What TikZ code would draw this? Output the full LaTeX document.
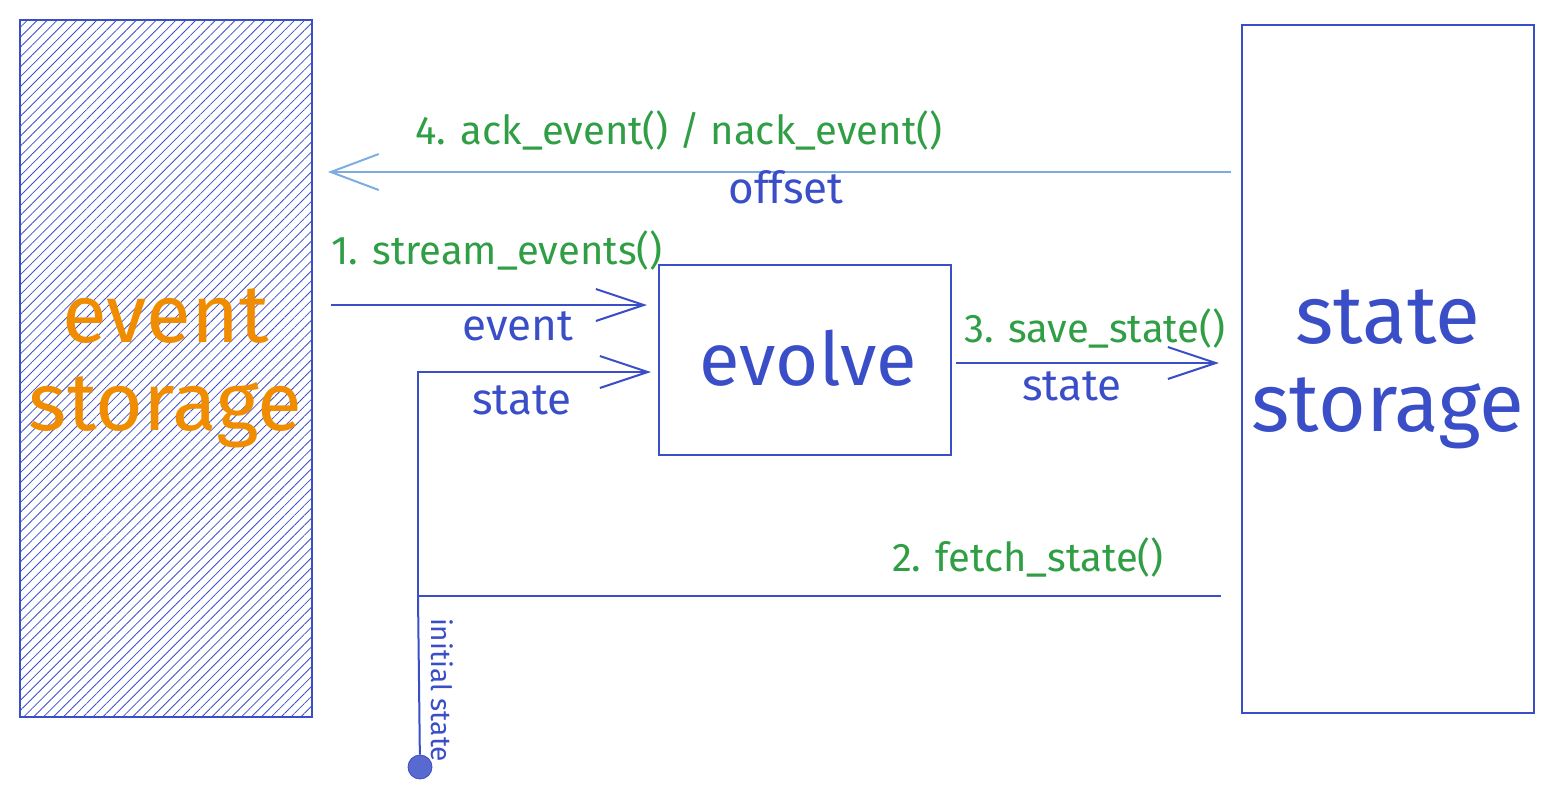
\documentclass[tikz,border=0pt]{standalone}
\usepackage{fontspec}
\setmainfont{Fira Sans}
\usetikzlibrary{arrows.meta,patterns.meta}
\definecolor{inkblue}{RGB}{58,78,200}
\definecolor{inkgreen}{RGB}{47,158,68}
\definecolor{inkorange}{RGB}{240,140,0}
\definecolor{paleblue}{RGB}{125,172,224}
\tikzset{
  store/.style={draw=inkblue,line width=1pt,minimum width=146pt,minimum height=346pt,align=center,font=\fontsize{41}{44}\selectfont},
  flow/.style={draw=inkblue,line width=1pt,-{Straight Barb[length=24pt,width=16pt,line width=1pt]}},
  call/.style={text=inkgreen,font=\fontsize{20}{22}\selectfont},
  data/.style={text=inkblue,font=\fontsize{22}{24}\selectfont},
}
\begin{document}
\begin{tikzpicture}[x=0.5pt,y=-0.5pt]
\useasboundingbox (0,0) rectangle (1553,800);
% storages
\node[store,minimum height=348.5pt,pattern={Lines[angle=45,distance=3.5pt,line width=0.4pt]},pattern color=inkblue,text=inkorange] (event) at (165.5,368.5) {event\\storage};
\node[store,minimum height=344pt,text=inkblue] (state) at (1388,369) {state\\storage};
\node[draw=inkblue,line width=1pt,minimum width=146pt,minimum height=95pt] (evolve) at (805,360) {};
\node[text=inkblue,font=\fontsize{37}{40}\selectfont] (evolvetext) at (808,358) {evolve};
% 4. ack
\draw[draw=paleblue,line width=1pt,-{Straight Barb[length=24pt,width=18pt,line width=1pt]},shorten <=5pt,shorten >=8pt] (state.west |- 0,172) -- (event.east |- 0,172);
\node[call] (ack) at (679,130) {4. ack\_event() / nack\_event()};
\node[data] (offset) at (786,187) {offset};
% 1. stream
\draw[flow,shorten <=9.5pt,shorten >=5.5pt] (event.east |- 0,305) -- (evolve.west |- 0,305);
\node[call] (stream) at (497,250) {1. stream\_events()};
\node[data] (eventlbl) at (518,326) {event};
% 2. fetch
\coordinate (junction) at (418,596);
\node[circle,fill=inkblue!85!white,draw=inkblue,minimum size=12pt,inner sep=0pt] (init) at (420,767) {};
\draw[inkblue,line width=1pt,shorten <=10pt] (state.west |- junction) -- (junction);
\draw[inkblue,line width=1pt] (junction) -- (init);
\node[call] (fetch) at (1028,557) {2. fetch\_state()};
\node[text=inkblue,font=\fontsize{14}{16}\selectfont,rotate=-90] (initlbl) at (442,690) {initial state};
\draw[flow,shorten >=3.5pt] (junction) |- (evolve.west |- 0,372);
\node[data] (statein) at (522,400) {state};
% 3. save
\draw[flow,shorten <=2pt,shorten >=11pt] (evolve.east |- 0,363) -- (state.west |- 0,363);
\node[call] (save) at (1095,328) {3. save\_state()};
\node[data] (stateout) at (1072,386) {state};
\end{tikzpicture}
\end{document}
